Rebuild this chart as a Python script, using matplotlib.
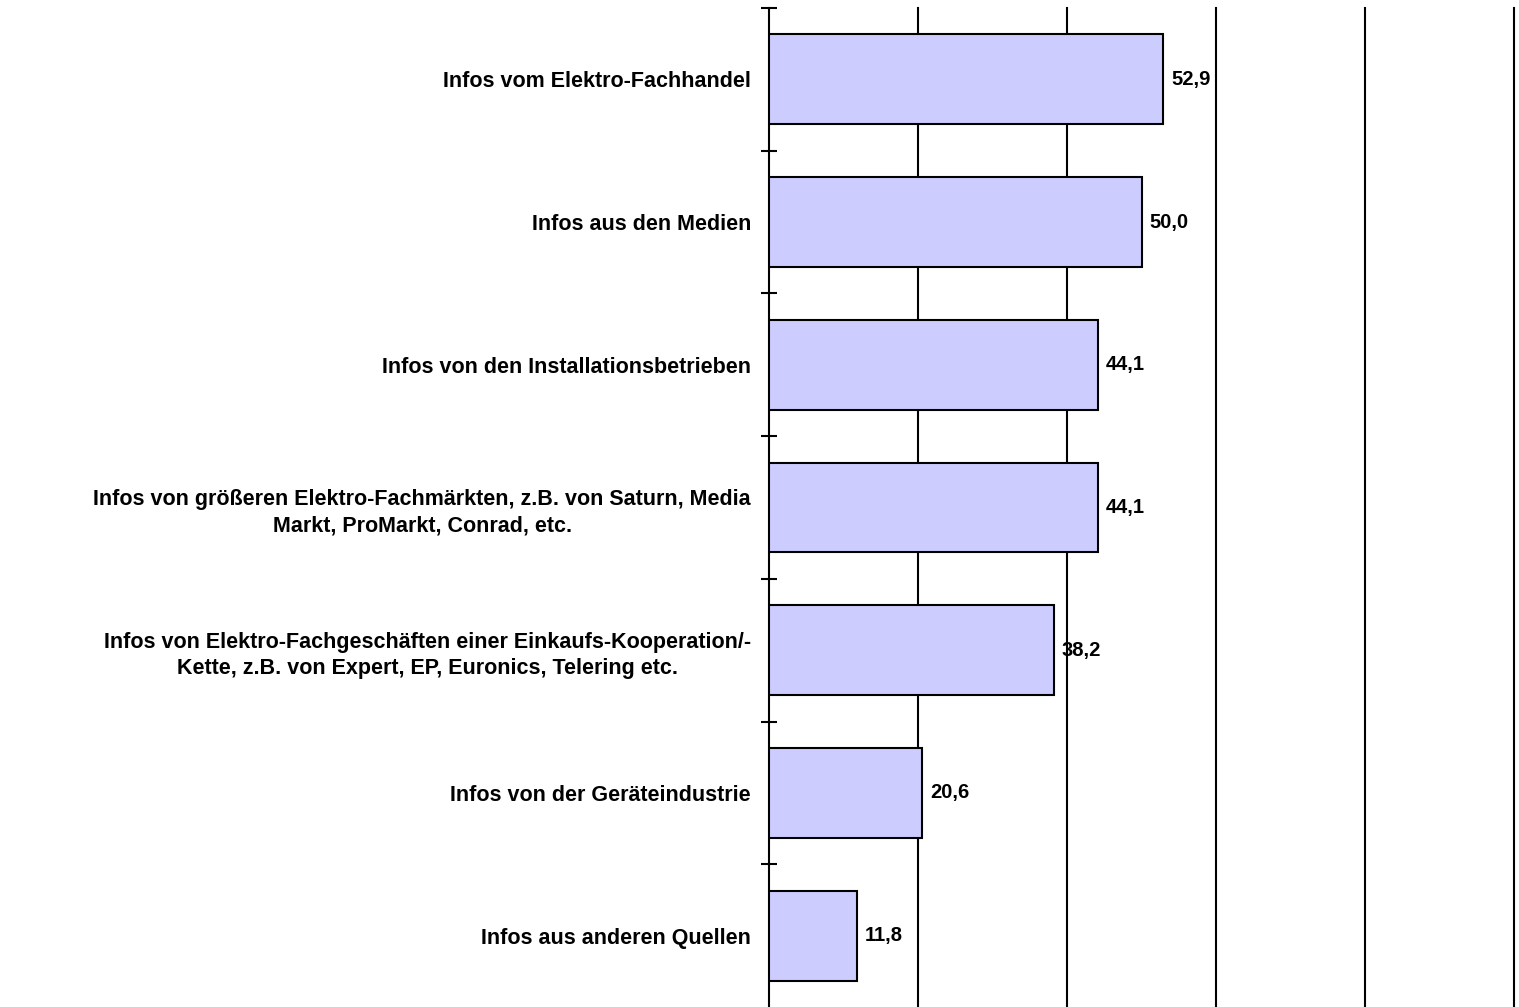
import matplotlib
matplotlib.use("Agg")
import matplotlib.pyplot as plt

plt.rcParams['font.family'] = ['Liberation Sans', 'DejaVu Sans']

categories = [
    'Infos vom Elektro-Fachhandel',
    'Infos aus den Medien',
    'Infos von den Installationsbetrieben',
    'Infos von größeren Elektro-Fachmärkten, z.B. von Saturn, Media\nMarkt, ProMarkt, Conrad, etc.',
    'Infos von Elektro-Fachgeschäften einer Einkaufs-Kooperation/-\nKette, z.B. von Expert, EP, Euronics, Telering etc.',
    'Infos von der Geräteindustrie',
    'Infos aus anderen Quellen',
]
values = [52.9, 50.0, 44.1, 44.1, 38.2, 20.6, 11.8]
grid_x = [20, 40, 60, 80, 100]

fig = plt.figure(figsize=(15.19, 10.07), dpi=100)
ax = fig.add_axes([769 / 1519, 0.0, 745 / 1519, 1 - 8 / 1007])

pos = list(range(len(categories)))
ax.barh(pos, values, height=0.63, color='#CCCCFF', edgecolor='black', linewidth=1.5, zorder=3)

for x in grid_x:
    ax.axvline(x, color='black', linewidth=1.5, zorder=1, clip_on=False)

for p, v in zip(pos, values):
    ax.text(v + 1.1, p, f'{v:.1f}'.replace('.', ','), va='center', ha='left',
            fontsize=14.5, fontweight='bold', zorder=4)

ax.set_xlim(0, 100)
ax.set_ylim(len(categories) - 0.5, -0.5)
ax.set_xticks([])
ax.set_yticks(pos)
ax.set_yticklabels(categories, fontsize=15.5, fontweight='bold', ha='right',
                   multialignment='center', linespacing=1.35)
ax.set_yticks([p - 0.5 for p in pos], minor=True)
ax.tick_params(axis='y', which='major', length=0, pad=13)
ax.tick_params(axis='y', which='minor', direction='inout', length=12, width=1.5)

for s in ['top', 'right', 'bottom']:
    ax.spines[s].set_visible(False)
ax.spines['left'].set_linewidth(1.5)

fig.savefig('out.png', dpi=100)
